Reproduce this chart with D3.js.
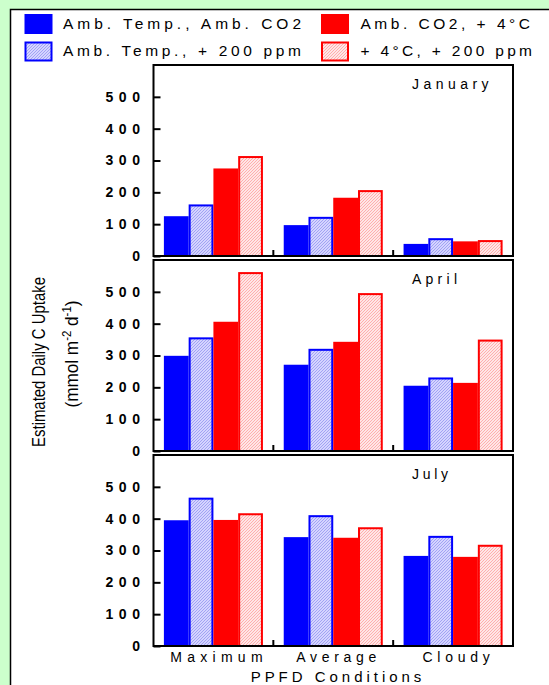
<!DOCTYPE html>
<html>
<head>
<meta charset="utf-8">
<script src="https://cdn.jsdelivr.net/npm/d3@7"></script>
<style>
  html, body { margin: 0; padding: 0; background: #ccffcc; }
  svg { display: block; }
  text { font-family: "Liberation Sans", Arial, sans-serif; fill: #000; }
</style>
</head>
<body>
<svg id="chart" width="549" height="685"></svg>
<script>
// PPFD light conditions (x categories)
const conditions = ["Maximum", "Average", "Cloudy"];
// Treatment series
const series = ["Amb. Temp., Amb. CO2", "Amb. Temp., + 200 ppm", "Amb. CO2, + 4°C", "+ 4°C, + 200 ppm"];
// Months (one panel each)
const months = ["January", "April", "July"];
// Estimated daily C uptake, per month: rows = condition, columns = series
const januaryValues = [[125, 162, 275, 314], [97, 123, 183, 207], [38, 56, 46, 50]];
const aprilValues   = [[299, 357, 406, 562], [271, 321, 343, 496], [205, 231, 214, 350]];
const julyValues    = [[395, 466, 396, 417], [342, 411, 340, 373], [283, 346, 280, 318]];
const monthValues = [januaryValues, aprilValues, julyValues];
const yTicks = [0, 100, 200, 300, 400, 500];

const svg = d3.select("#chart");
const defs = svg.append("defs");

// fine diagonal hatch fills
function hatch(id, bg, line) {
  const p = defs.append("pattern").attr("id", id)
    .attr("patternUnits", "userSpaceOnUse").attr("width", 3).attr("height", 3);
  p.append("rect").attr("width", 3).attr("height", 3).attr("fill", bg);
  p.append("path").attr("d", "M-1,1 L1,-1 M0,3 L3,0 M2,4 L4,2")
    .attr("stroke", line).attr("stroke-width", 0.9).attr("fill", "none");
}
hatch("hatchBlue", "#d4d4ff", "#9c9cf2");
hatch("hatchRed", "#ffe6e6", "#ffa8a8");

const fills = ["#0000ff", "url(#hatchBlue)", "#ff0000", "url(#hatchRed)"];
const strokes = [null, "#0000ff", null, "#ff0000"];

// white card with black border
svg.append("rect").attr("x", 10.5).attr("y", 9.5).attr("width", 600).attr("height", 700)
  .attr("fill", "#fff").attr("stroke", "#000").attr("stroke-width", 1.5);

// spaced-out text helper
function spaced(sel, width) {
  return sel.attr("textLength", width).attr("lengthAdjust", "spacing");
}

// legend
const legendItems = [
  { s: 0, x: 24.5, y: 14, tx: 63, ty: 28.5, w: 238 },
  { s: 2, x: 321, y: 14, tx: 360.5, ty: 28.5, w: 169.5 },
  { s: 1, x: 24.5, y: 41.5, tx: 63, ty: 56, w: 238 },
  { s: 3, x: 321, y: 41.5, tx: 360.5, ty: 56, w: 171.5 }
];
const lg = svg.append("g");
legendItems.forEach(d => {
  const r = lg.append("rect").attr("x", d.x).attr("y", d.y).attr("width", 28).attr("height", 20)
    .attr("fill", fills[d.s]);
  if (strokes[d.s]) r.attr("stroke", strokes[d.s]).attr("stroke-width", 2)
    .attr("x", d.x + 1).attr("y", d.y + 1).attr("width", 26).attr("height", 18);
  spaced(lg.append("text").attr("x", d.tx).attr("y", d.ty).attr("font-size", 15.5)
    .text(series[d.s]), d.w);
});

// panel layout
const left = 153.5, right = 513;
const panelH = 191, panelStep = 195, firstTop = 65;

const x0 = d3.scaleBand().domain(conditions).range([left, right]).padding(0);
const x1 = d3.scaleBand().domain(series).range([0, x0.bandwidth()])
  .paddingInner(0).paddingOuter(0.42);

const monthLabelW = [76.6, 45, 36];

months.forEach((m, i) => {
  const top = firstTop + i * panelStep;
  const bottom = top + panelH;
  const y = d3.scaleLinear().domain([0, 600]).range([bottom, top]);
  const g = svg.append("g");

  // bars
  monthValues[i].forEach((row, ci) => {
    const gx = x0(conditions[ci]);
    row.forEach((v, si) => {
      const bx = gx + x1(series[si]);
      const r = g.append("rect")
        .attr("x", bx).attr("y", y(v))
        .attr("width", x1.bandwidth()).attr("height", y(0) - y(v))
        .attr("fill", fills[si]);
      if (strokes[si]) {
        r.attr("x", bx + 1).attr("y", y(v) + 1)
          .attr("width", x1.bandwidth() - 2).attr("height", y(0) - y(v) - 1)
          .attr("stroke", strokes[si]).attr("stroke-width", 2);
      }
    });
  });

  // y axis with inward ticks
  const ax = g.append("g").attr("transform", `translate(${left},0)`)
    .call(d3.axisLeft(y).tickValues(yTicks).tickSizeInner(-7).tickSizeOuter(0).tickPadding(13.5));
  ax.select(".domain").remove();
  ax.selectAll(".tick line").attr("stroke", "#000").attr("stroke-width", 2);
  ax.selectAll(".tick text")
    .attr("font-family", "'Liberation Sans', Arial, sans-serif")
    .attr("font-size", 14).attr("font-weight", "bold")
    .each(function(d) { spaced(d3.select(this), String(d).length === 1 ? 9 : 34.5); });

  // group separator ticks on the baseline
  conditions.slice(1).forEach(c => {
    g.append("line").attr("x1", x0(c)).attr("x2", x0(c))
      .attr("y1", bottom).attr("y2", bottom - 6)
      .attr("stroke", "#000").attr("stroke-width", 2);
  });

  // frame
  g.append("rect").attr("x", left).attr("y", top).attr("width", right - left).attr("height", panelH)
    .attr("fill", "none").attr("stroke", "#000").attr("stroke-width", 2);

  // month label
  spaced(g.append("text").attr("x", 412).attr("y", top + 24).attr("font-size", 14).text(m), monthLabelW[i]);
});

// category labels
const catW = [92.3, 80, 67.3];
conditions.forEach((c, ci) => {
  spaced(svg.append("text").attr("x", x0(c) + x0.bandwidth() / 2 + 3).attr("y", 662)
    .attr("text-anchor", "middle").attr("font-size", 14).text(c), catW[ci]);
});
spaced(svg.append("text").attr("x", 336).attr("y", 682).attr("text-anchor", "middle")
  .attr("font-size", 15).text("PPFD Conditions"), 170.7);

// y axis title, condensed
function narrowTitle(build, bx, cy, len) {
  const t = svg.append("text").attr("text-anchor", "middle").attr("font-size", 18);
  build(t);
  const w = t.node().getComputedTextLength();
  t.attr("transform", `translate(${bx},${cy}) rotate(-90) scale(${len / w},1)`);
}
narrowTitle(t => t.text("Estimated Daily C Uptake"), 45, 362, 170);
narrowTitle(t => {
  t.append("tspan").text("(mmol m");
  t.append("tspan").attr("font-size", 12).attr("dy", -7).text("-2");
  t.append("tspan").attr("dy", 7).text(" d");
  t.append("tspan").attr("font-size", 12).attr("dy", -7).text("-1");
  t.append("tspan").attr("dy", 7).text(")");
}, 78, 354, 107);
</script>
</body>
</html>
